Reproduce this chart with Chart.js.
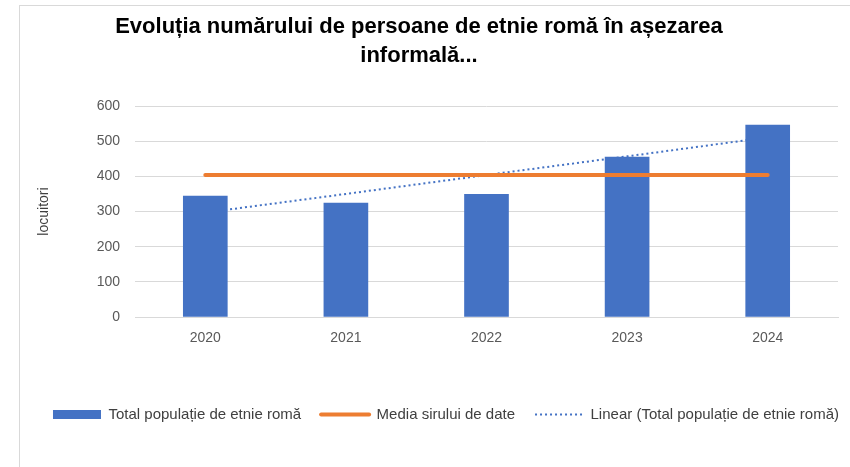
<!DOCTYPE html>
<html>
<head>
<meta charset="utf-8">
<script src="https://cdn.jsdelivr.net/npm/chart.js@4.4.1/dist/chart.umd.min.js"></script>
<style>
  html, body { margin: 0; padding: 0; background: #ffffff; overflow: hidden; }
  #frame { position: absolute; left: 19px; top: 5px; width: 900px; height: 520px; border: 1px solid #d9d9d9; }
  #c { position: absolute; left: 0; top: 0; }
</style>
</head>
<body>
<div id="frame"></div>
<canvas id="c" width="850" height="467"></canvas>
<script>
const categories = ['2020', '2021', '2022', '2023', '2024'];
const populatie = [344, 324, 349, 455, 546];
const media = [404, 404, 404, 404, 404];
const trend = [297, 350, 404, 457, 511];
const yTicks = [0, 100, 200, 300, 400, 500, 600];

const titleLines = ['Evoluția numărului de persoane de etnie romă în așezarea', 'informală...'];
const seriesNames = ['Total populație de etnie romă', 'Media sirului de date', 'Linear (Total populație de etnie romă)'];

const FONT = "'Liberation Sans', Arial, sans-serif";
const BLUE = '#4472C4';
const ORANGE = '#ED7D31';

const shiftLegend = {
  id: 'shiftLegend',
  afterLayout(chart) {
    const dx = 27;
    chart.legend.left += dx;
    chart.legend.right += dx;
  }
};

new Chart(document.getElementById('c'), {
  data: {
    labels: categories,
    datasets: [
      {
        type: 'bar',
        label: seriesNames[0],
        data: populatie,
        backgroundColor: BLUE,
        borderWidth: 0,
        barThickness: 44,
        order: 1
      },
      {
        type: 'line',
        label: seriesNames[1],
        data: media,
        borderColor: ORANGE,
        backgroundColor: ORANGE,
        borderWidth: 4,
        borderCapStyle: 'round',
        pointRadius: 0,
        fill: false,
        tension: 0,
        order: 0
      },
      {
        type: 'line',
        label: seriesNames[2],
        data: trend,
        borderColor: BLUE,
        backgroundColor: BLUE,
        borderWidth: 2,
        borderDash: [2, 3],
        pointRadius: 0,
        fill: false,
        tension: 0,
        order: 2
      }
    ]
  },
  options: {
    responsive: false,
    animation: false,
    layout: { padding: { left: 0, right: 12, top: 0, bottom: 35 } },
    plugins: {
      tooltip: { enabled: false },
      title: {
        display: true,
        text: titleLines,
        color: '#000000',
        font: { family: FONT, size: 22, weight: 'bold', lineHeight: 1.32 },
        padding: { top: 12, bottom: 36 }
      },
      legend: {
        position: 'bottom',
        labels: {
          usePointStyle: true,
          pointStyleWidth: 48,
          boxHeight: 9,
          padding: 20,
          color: '#404040',
          font: { family: FONT, size: 15 },
          sort: (a, b) => a.datasetIndex - b.datasetIndex,
          generateLabels(chart) {
            const items = Chart.defaults.plugins.legend.labels.generateLabels(chart);
            items.forEach(it => {
              if (it.datasetIndex === 0) {
                it.pointStyle = 'rect'; it.fillStyle = BLUE; it.strokeStyle = BLUE; it.lineWidth = 0; it.lineDash = [];
              } else if (it.datasetIndex === 1) {
                it.pointStyle = 'line'; it.strokeStyle = ORANGE; it.fillStyle = ORANGE; it.lineWidth = 4; it.lineCap = 'round'; it.lineDash = [];
              } else {
                it.pointStyle = 'line'; it.strokeStyle = BLUE; it.fillStyle = BLUE; it.lineWidth = 2; it.lineDash = [2, 3];
              }
            });
            return items;
          }
        }
      }
    },
    scales: {
      x: {
        grid: { display: false },
        border: { display: true, color: '#d9d9d9', width: 1 },
        ticks: { color: '#595959', font: { family: FONT, size: 14 }, padding: 5 },
        afterFit(scale) { scale.height = 70; }
      },
      y: {
        min: 0,
        max: 600,
        afterBuildTicks(scale) { scale.ticks = yTicks.map(v => ({ value: v })); },
        grid: { color: '#d9d9d9', lineWidth: 1, drawTicks: false },
        border: { display: false },
        ticks: { color: '#595959', font: { family: FONT, size: 14 }, padding: 15 },
        title: {
          display: true,
          text: 'locuitori',
          color: '#404040',
          font: { family: FONT, size: 14 },
          padding: { top: 36, bottom: 0 }
        },
        afterFit(scale) { scale.width = 135; }
      }
    }
  },
  plugins: [shiftLegend]
});
</script>
</body>
</html>
